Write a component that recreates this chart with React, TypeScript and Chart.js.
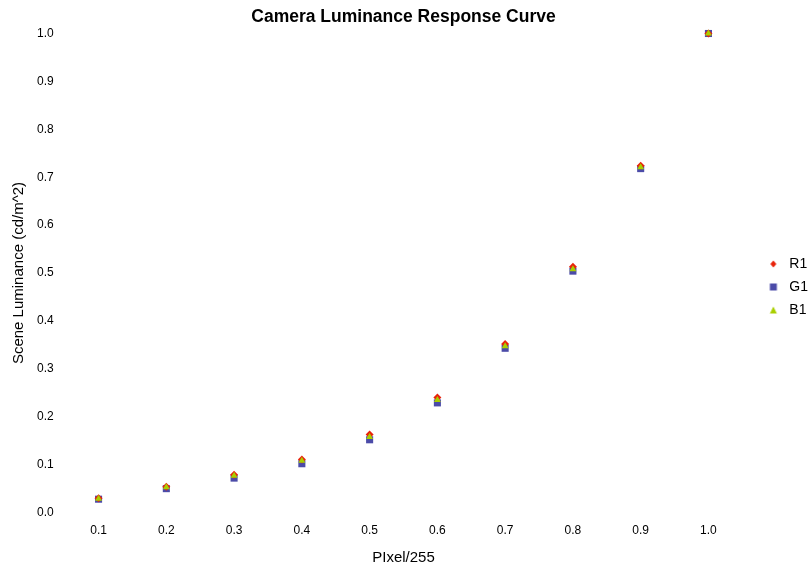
import React, { useEffect, useRef } from "react";
import { Chart, registerables } from "chart.js";

Chart.register(...registerables);

const categories = ["0.1", "0.2", "0.3", "0.4", "0.5", "0.6", "0.7", "0.8", "0.9", "1.0"];
const r1 = [0.030, 0.054, 0.079, 0.111, 0.163, 0.240, 0.352, 0.513, 0.724, 1.0];
const g1 = [0.028, 0.050, 0.072, 0.102, 0.152, 0.229, 0.343, 0.504, 0.718, 1.0];
const b1 = [0.029, 0.053, 0.077, 0.108, 0.158, 0.235, 0.347, 0.508, 0.721, 1.0];

const RED = "#e8230b";
const BLUE = "#4b4ba8";
const GREEN = "#a9cf00";

function legendIcon(kind: string, color: string) {
  const c = document.createElement("canvas");
  c.width = 31;
  c.height = 10;
  const ctx = c.getContext("2d")!;
  ctx.fillStyle = color;
  const cx = 22, cy = 5;
  ctx.beginPath();
  if (kind === "rect") {
    ctx.rect(cx - 3.5, cy - 3.5, 7, 7);
  } else if (kind === "rectRot") {
    ctx.moveTo(cx, cy - 3.5);
    ctx.lineTo(cx + 3, cy);
    ctx.lineTo(cx, cy + 3.5);
    ctx.lineTo(cx - 3, cy);
    ctx.closePath();
  } else {
    ctx.moveTo(cx, cy - 3.5);
    ctx.lineTo(cx + 3.5, cy + 3.5);
    ctx.lineTo(cx - 3.5, cy + 3.5);
    ctx.closePath();
  }
  ctx.fill();
  return c;
}

export default function App() {
  const ref = useRef<HTMLCanvasElement>(null);
  useEffect(() => {
    document.body.style.margin = "0";
    const font = "'Liberation Sans', Arial, sans-serif";
    const icons = [legendIcon("rectRot", RED), legendIcon("rect", BLUE), legendIcon("triangle", GREEN)];
    const chart = new Chart(ref.current!, {
      type: "line",
      data: {
        labels: categories,
        datasets: [
          { label: "R1", data: r1, showLine: false, clip: false, pointStyle: "rectRot", pointRadius: 4, backgroundColor: RED, borderColor: RED, borderWidth: 0, order: 1 },
          { label: "G1", data: g1, showLine: false, clip: false, pointStyle: "rect", pointRadius: 5, backgroundColor: BLUE, borderColor: BLUE, borderWidth: 0, order: 2 },
          { label: "B1", data: b1, showLine: false, clip: false, pointStyle: "triangle", pointRadius: 4, backgroundColor: GREEN, borderColor: GREEN, borderWidth: 0, order: 0 },
        ],
      },
      options: {
        animation: false,
        responsive: false,
        layout: { padding: { left: 6, right: -9, top: 0, bottom: 0 } },
        plugins: {
          title: { display: true, fullSize: false, text: "Camera Luminance Response Curve", font: { family: font, size: 17.5, weight: "bold" }, color: "#000", padding: { top: 6.5, bottom: 6 } },
          legend: {
            position: "right",
            title: { display: true, text: " ", font: { size: 7, lineHeight: 1 }, padding: { top: 0, bottom: 0 } },
            labels: {
              usePointStyle: true,
              pointStyleWidth: 31,
              boxHeight: 7,
              padding: 9,
              color: "#000",
              font: { family: font, size: 14 },
              sort: (a: any, b: any) => a.datasetIndex - b.datasetIndex,
              generateLabels: (ch: any) => {
                const items = Chart.defaults.plugins.legend.labels.generateLabels(ch);
                items.forEach((it: any) => { it.pointStyle = icons[it.datasetIndex]; });
                return items;
              },
            },
          },
          tooltip: { enabled: false },
        },
        scales: {
          x: {
            type: "category",
            offset: true,
            grid: { display: false },
            border: { display: false },
            ticks: { color: "#000", font: { family: font, size: 12 }, padding: 3 },
            title: { display: true, text: "PIxel/255", color: "#000", font: { family: font, size: 15 }, padding: { top: 8, bottom: 0 } },
          },
          y: {
            min: 0,
            max: 1,
            grid: { display: false },
            border: { display: false },
            ticks: { stepSize: 0.1, color: "#000", font: { family: font, size: 12 }, padding: 3, callback: (v: any) => Number(v).toFixed(1) },
            title: { display: true, text: "Scene Luminance (cd/m^2)", color: "#000", font: { family: font, size: 15 }, padding: { top: 4, bottom: 6 } },
          },
        },
      },
    });
    return () => chart.destroy();
  }, []);
  return (
    <div style={{ width: 809, height: 567 }}>
      <canvas ref={ref} width={809} height={567} />
    </div>
  );
}
